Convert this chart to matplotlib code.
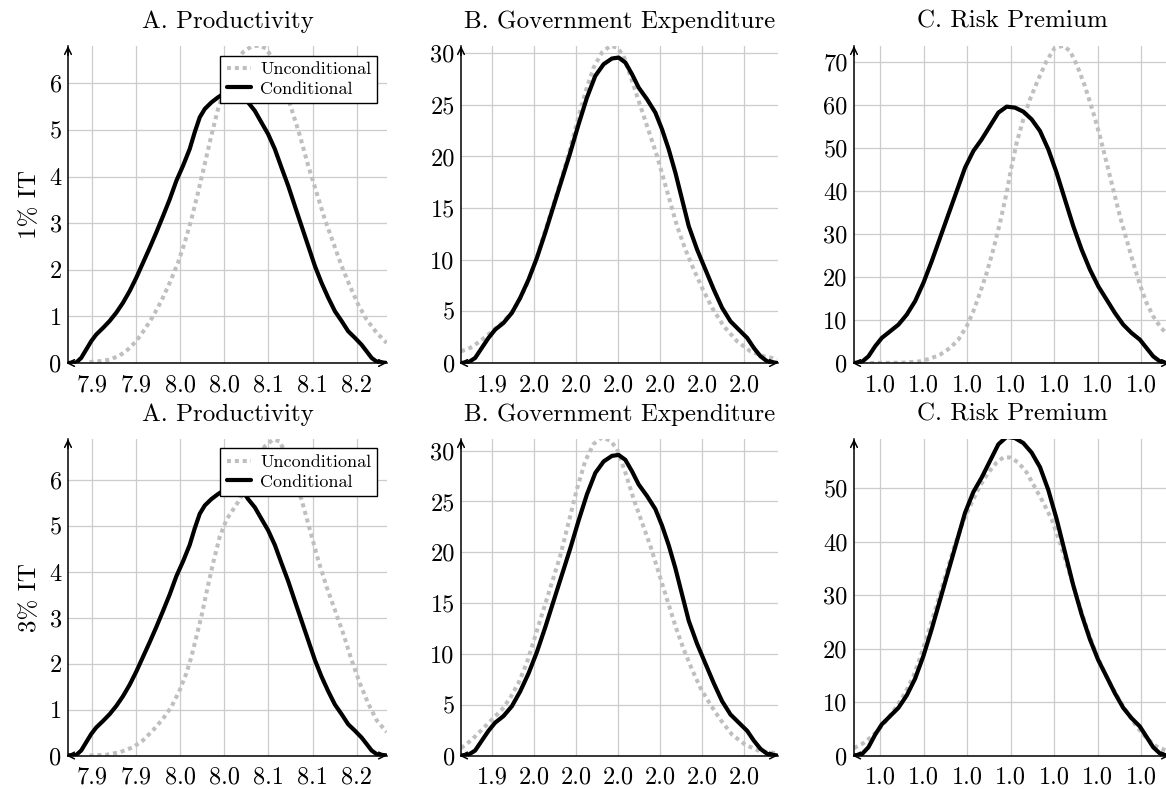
import matplotlib
matplotlib.use('Agg')
import matplotlib.pyplot as plt
from matplotlib.ticker import FixedLocator, FormatStrFormatter, MultipleLocator

plt.rcParams['font.family'] = ['cmr10']
plt.rcParams['mathtext.fontset'] = 'cm'
plt.rcParams['axes.unicode_minus'] = False

# ---------------- data ----------------
titles = ['A. Productivity', 'B. Government Expenditure', 'C. Risk Premium']
row_labels = ['1% IT', '3% IT']
legend_labels = ['Unconditional', 'Conditional']

xticks_A = [7.88, 7.93, 7.98, 8.03, 8.08, 8.13, 8.18]
xticks_B = [1.945, 1.96, 1.975, 1.99, 2.005, 2.02, 2.035]
xticks_C = [0.97, 0.98, 0.99, 1.00, 1.01, 1.02, 1.03]

# Productivity
cond_A_x = [7.8523, 7.8618, 7.8675, 7.8732, 7.8789, 7.8845, 7.8921, 7.8997, 7.9073, 7.9148,
            7.9224, 7.93, 7.9376, 7.9452, 7.9527, 7.9603, 7.9679, 7.9755, 7.983, 7.9906,
            7.9963, 8.002, 8.0077, 8.0152, 8.0228, 8.0285, 8.0398, 8.0482, 8.0569, 8.0645,
            8.072, 8.0796, 8.0872, 8.0948, 8.1024, 8.1099, 8.1175, 8.1251, 8.1327, 8.1402,
            8.1478, 8.1554, 8.163, 8.1705, 8.1781, 8.1857, 8.1914, 8.197, 8.2027, 8.2141]
cond_A_y = [0.0, 0.01, 0.11, 0.29, 0.47, 0.61, 0.75, 0.90, 1.08, 1.29,
            1.54, 1.83, 2.15, 2.47, 2.80, 3.15, 3.51, 3.91, 4.23, 4.59,
            4.95, 5.27, 5.45, 5.59, 5.70, 5.77, 5.86, 5.84, 5.59, 5.41,
            5.16, 4.91, 4.59, 4.19, 3.80, 3.37, 2.94, 2.51, 2.08, 1.72,
            1.40, 1.11, 0.90, 0.68, 0.54, 0.39, 0.25, 0.11, 0.03, 0.0]

uncond_A1_x = [7.877, 7.8883, 7.8997, 7.9111, 7.9205, 7.93, 7.9395, 7.9489, 7.9584, 7.9679,
               7.9773, 7.9849, 7.9925, 8.0001, 8.0077, 8.0152, 8.0228, 8.0323, 8.0417, 8.0512,
               8.0607, 8.0702, 8.0777, 8.0872, 8.0967, 8.1061, 8.1156, 8.1251, 8.1345, 8.144,
               8.1535, 8.163, 8.1724, 8.1819, 8.1914, 8.2027, 8.2141]
uncond_A1_y = [0.02, 0.04, 0.07, 0.16, 0.29, 0.47, 0.72, 1.00, 1.33, 1.72,
               2.15, 2.58, 3.08, 3.66, 4.27, 4.88, 5.45, 6.02, 6.42, 6.67,
               6.79, 6.81, 6.74, 6.45, 5.99, 5.45, 4.88, 4.23, 3.66, 3.08,
               2.58, 2.08, 1.65, 1.25, 0.93, 0.65, 0.43]

uncond_A2_x = [7.877, 7.8959, 7.9111, 7.9262, 7.9376, 7.9489, 7.9603, 7.9698, 7.9792, 7.9868,
               7.9925, 7.9982, 8.0039, 8.0095, 8.0171, 8.0247, 8.0323, 8.0398, 8.0474, 8.0569,
               8.0664, 8.0758, 8.0853, 8.0929, 8.1005, 8.108, 8.1175, 8.127, 8.1364, 8.1459,
               8.1554, 8.1648, 8.1743, 8.1838, 8.1933, 8.2027, 8.2141]
uncond_A2_y = [0.0, 0.015, 0.07, 0.18, 0.33, 0.55, 0.80, 1.06, 1.42, 1.79,
               2.15, 2.59, 3.03, 3.54, 4.19, 4.77, 5.14, 5.36, 5.58, 5.94,
               6.38, 6.74, 6.89, 6.85, 6.52, 6.09, 5.58, 4.92, 4.26, 3.68,
               3.17, 2.66, 2.08, 1.57, 1.13, 0.77, 0.51]

# Government expenditure
cond_B_x = [1.93379, 1.93641, 1.9388, 1.94118, 1.94357, 1.94595, 1.94893, 1.95192, 1.9549, 1.95788,
            1.96086, 1.96384, 1.96682, 1.9698, 1.97278, 1.97576, 1.97874, 1.98173, 1.98471, 1.98769,
            1.99007, 1.99246, 1.99484, 1.99723, 2.00021, 2.00319, 2.00557, 2.00796, 2.01034, 2.01273,
            2.01511, 2.01809, 2.02107, 2.02406, 2.02704, 2.03002, 2.033, 2.03598, 2.03837, 2.04075,
            2.04314, 2.04671]
cond_B_y = [0.0, 0.07, 0.49, 1.46, 2.43, 3.23, 3.88, 4.85, 6.31, 8.08,
            10.18, 12.61, 15.20, 17.78, 20.37, 23.12, 25.70, 27.81, 28.94, 29.49,
            29.58, 29.10, 27.97, 26.67, 25.54, 24.25, 22.63, 20.69, 18.43, 15.84,
            13.26, 10.99, 9.05, 7.11, 5.34, 4.04, 3.23, 2.43, 1.46, 0.65,
            0.16, 0.0]

uncond_B1_x = [1.93379, 1.93701, 1.94059, 1.94417, 1.94774, 1.95132, 1.9543, 1.95728, 1.96026, 1.96324,
               1.96622, 1.9692, 1.97219, 1.97517, 1.97815, 1.98113, 1.98411, 1.98709, 1.98948, 1.99186,
               1.99425, 1.99663, 1.99902, 2.0014, 2.00379, 2.00617, 2.00856, 2.01094, 2.01392, 2.0169,
               2.01988, 2.02346, 2.02763, 2.0324, 2.03717, 2.04194, 2.04671]
uncond_B1_y = [1.13, 1.46, 2.10, 2.91, 3.72, 4.69, 5.98, 7.60, 9.70, 12.29,
               14.87, 17.46, 20.21, 23.28, 26.19, 28.61, 30.07, 30.72, 30.55, 29.75,
               27.81, 25.87, 23.93, 21.99, 20.05, 17.78, 15.52, 13.26, 10.99, 9.05,
               7.28, 5.34, 3.56, 2.10, 1.13, 0.65, 0.39]

uncond_B2_x = [1.93379, 1.93761, 1.94118, 1.94476, 1.94834, 1.95132, 1.9543, 1.95728, 1.96026, 1.96324,
               1.96622, 1.9692, 1.97219, 1.97517, 1.97815, 1.98113, 1.98411, 1.98709, 1.98948, 1.99246,
               1.99544, 1.99842, 2.0014, 2.00438, 2.00737, 2.01035, 2.01333, 2.01631, 2.01929, 2.02287,
               2.02644, 2.03062, 2.03539, 2.04075, 2.04671]
uncond_B2_y = [0.72, 1.55, 2.53, 3.52, 4.51, 5.66, 7.14, 9.11, 11.74, 14.38,
               17.01, 19.64, 22.93, 26.22, 29.01, 30.66, 31.32, 30.99, 30.16, 27.86,
               25.23, 22.93, 20.63, 17.99, 15.36, 12.73, 10.43, 8.45, 6.65, 5.00,
               3.52, 2.04, 1.05, 0.40, 0.23]

# Risk premium
cond_C_x = [0.96403, 0.96579, 0.96732, 0.96885, 0.97038, 0.9723, 0.97421, 0.97612, 0.97803, 0.97995,
            0.98186, 0.98377, 0.98568, 0.9876, 0.98951, 0.99142, 0.99334, 0.99525, 0.99716, 0.99907,
            1.00099, 1.0029, 1.00481, 1.00673, 1.00864, 1.01055, 1.01246, 1.01438, 1.01629, 1.0182,
            1.02011, 1.02203, 1.02394, 1.02585, 1.02777, 1.02968, 1.03121, 1.03274, 1.03427, 1.03565]
cond_C_y = [0.0, 0.23, 1.55, 3.88, 5.82, 7.37, 8.92, 11.25, 14.36, 18.63,
            23.67, 29.10, 34.53, 39.97, 45.40, 49.28, 52.00, 55.10, 58.20, 59.60,
            59.37, 58.44, 56.65, 53.94, 49.67, 44.23, 38.03, 31.82, 26.39, 21.73,
            17.85, 14.75, 11.64, 8.92, 6.98, 5.43, 3.49, 1.55, 0.39, 0.0]

uncond_C1_x = [0.9677, 0.97536, 0.97918, 0.98148, 0.98377, 0.98607, 0.98798, 0.98989, 0.99142, 0.99295,
               0.99448, 0.99601, 0.99754, 0.99907, 1.00022, 1.00137, 1.0029, 1.00443, 1.00634, 1.00826,
               1.01017, 1.01208, 1.01361, 1.01514, 1.01705, 1.01897, 1.0205, 1.02203, 1.02356, 1.02509,
               1.02662, 1.02815, 1.02968, 1.03121, 1.03274, 1.03427, 1.03565]
uncond_C1_y = [0.0, 0.08, 0.39, 1.01, 1.94, 3.49, 5.43, 8.54, 12.03, 16.30,
               20.95, 26.39, 32.59, 39.58, 45.79, 51.22, 56.65, 61.31, 65.96, 70.23,
               73.34, 73.72, 72.56, 69.46, 64.41, 58.20, 52.77, 46.56, 40.35, 34.15,
               28.71, 23.28, 18.24, 13.97, 10.86, 8.54, 6.98]

uncond_C2_x = [0.96403, 0.96617, 0.96809, 0.97, 0.97191, 0.97383, 0.97574, 0.97765, 0.97956, 0.98148,
               0.98339, 0.9853, 0.98721, 0.98913, 0.99104, 0.99295, 0.99487, 0.99678, 0.99831, 0.99984,
               1.00175, 1.00366, 1.00558, 1.00749, 1.0094, 1.01132, 1.01323, 1.01514, 1.01705, 1.01897,
               1.02088, 1.02279, 1.0247, 1.02662, 1.02891, 1.03121, 1.0335, 1.03565]
uncond_C2_y = [1.38, 2.31, 3.56, 5.13, 7.00, 9.19, 11.69, 14.81, 19.19, 24.19,
               29.19, 34.50, 39.50, 43.88, 47.31, 50.44, 52.94, 54.81, 55.75, 55.75,
               54.81, 52.94, 50.13, 47.31, 44.19, 39.81, 34.81, 29.81, 24.81, 20.44,
               16.69, 13.56, 10.75, 8.25, 5.44, 3.25, 1.69, 0.94]

# ---------------- layout / style ----------------
W, H = 1166, 789
fig = plt.figure(figsize=(W / 100, H / 100), dpi=100)

col_lr = [(68, 387), (461, 778), (854, 1170)]
row_tb = [(46, 363), (439, 755.5)]
xlims = [(7.8525, 8.2145), (1.93375, 2.047), (0.964, 1.0366)]
ylims = [[6.8, 30.7, 73.7], [6.9, 31.15, 59.2]]
ysteps = [1, 5, 10]
xticks_all = [xticks_A, xticks_B, xticks_C]

series = [
    [(uncond_A1_x, uncond_A1_y, cond_A_x, cond_A_y),
     (uncond_B1_x, uncond_B1_y, cond_B_x, cond_B_y),
     (uncond_C1_x, uncond_C1_y, cond_C_x, cond_C_y)],
    [(uncond_A2_x, uncond_A2_y, cond_A_x, cond_A_y),
     (uncond_B2_x, uncond_B2_y, cond_B_x, cond_B_y),
     (uncond_C2_x, uncond_C2_y, cond_C_x, cond_C_y)],
]

gray = '#bfbfbf'
arrow_kw = dict(arrowstyle='->', lw=1.1, shrinkA=0, shrinkB=0, mutation_scale=12,
                color='black')
for r in range(2):
    for c in range(3):
        l, rr = col_lr[c]
        t, b = row_tb[r]
        ax = fig.add_axes([l / W, 1 - b / H, (rr - l) / W, (b - t) / H])
        ux, uy, cx, cy = series[r][c]
        ax.plot(ux, uy, color=gray, lw=2.9, linestyle=(0, (1.0, 0.95)),
                dash_capstyle='butt', label=legend_labels[0])
        ax.plot(cx, cy, color='black', lw=3.0, solid_capstyle='round',
                solid_joinstyle='round', label=legend_labels[1])
        ax.set_xlim(*xlims[c])
        ax.set_ylim(0, ylims[r][c])
        ax.xaxis.set_major_locator(FixedLocator(xticks_all[c]))
        ax.xaxis.set_major_formatter(FormatStrFormatter('%.1f'))
        ax.yaxis.set_major_locator(MultipleLocator(ysteps[c]))
        ax.yaxis.set_major_formatter(FormatStrFormatter('%d'))
        ax.grid(True, color='#cccccc', lw=0.9)
        ax.set_axisbelow(True)
        for s in ['top', 'right']:
            ax.spines[s].set_visible(False)
        for s in ['left', 'bottom']:
            ax.spines[s].set_linewidth(1.1)
        ax.tick_params(length=0, labelsize=17.5)
        ax.tick_params(axis='y', pad=4.5)
        ax.tick_params(axis='x', pad=8)
        # arrow tips on the axis lines
        ax.annotate('', xy=(0, 1.0), xytext=(0, 0.97), xycoords='axes fraction',
                    arrowprops=arrow_kw, annotation_clip=False)
        ax.annotate('', xy=(1.0, 0), xytext=(0.97, 0), xycoords='axes fraction',
                    arrowprops=arrow_kw, annotation_clip=False)
        ax.annotate('', xy=(-0.006, 0), xytext=(0.025, 0), xycoords='axes fraction',
                    arrowprops=arrow_kw, annotation_clip=False)
        ax.set_title(titles[c], fontsize=18, pad=13)
        if c == 0:
            ax.set_ylabel(row_labels[r], fontsize=18, labelpad=6)
            leg = ax.legend(loc='upper right', bbox_to_anchor=(0.97, 0.97),
                            borderaxespad=0, fontsize=13, frameon=True,
                            fancybox=False, framealpha=1, edgecolor='black',
                            handlelength=1.35, handletextpad=0.5, borderpad=0.35,
                            labelspacing=0.2)
            leg.get_frame().set_linewidth(1.0)

fig.savefig('out.png', dpi=100)
